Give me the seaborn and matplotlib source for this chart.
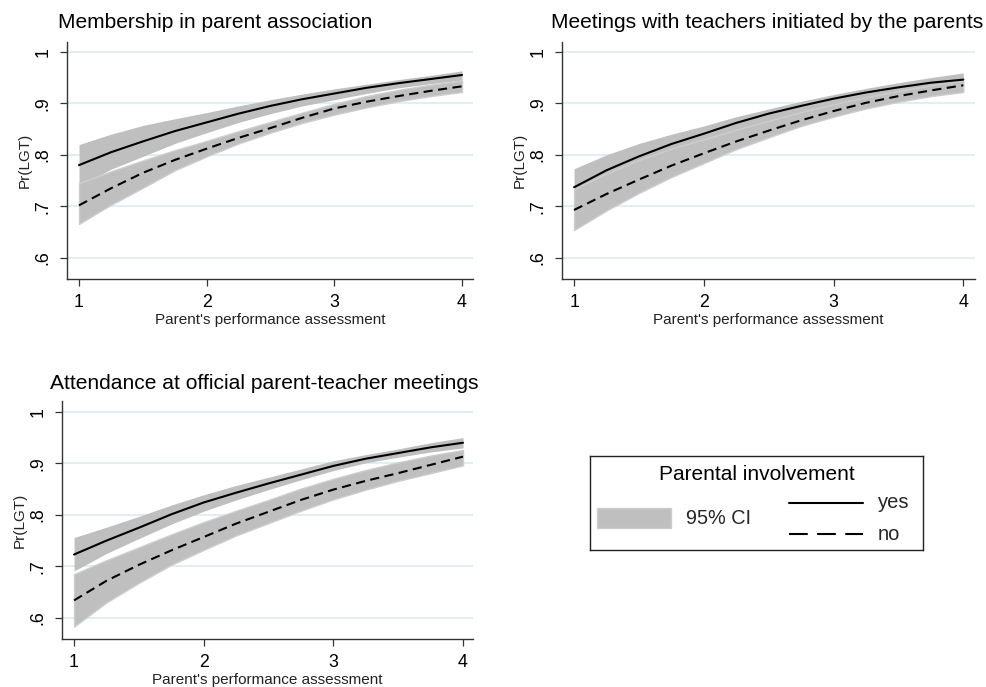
import matplotlib
matplotlib.use("Agg")
import matplotlib.pyplot as plt
from matplotlib.patches import Rectangle
from matplotlib.lines import Line2D
import pandas as pd
import seaborn as sns

# Predicted Pr(LGT) by parent's performance assessment
assessment = [1, 1.25, 1.5, 1.75, 2, 2.25, 2.5, 2.75, 3, 3.25, 3.5, 3.75, 4]

membership_yes = [0.780, 0.805, 0.826, 0.846, 0.863, 0.880, 0.895, 0.908, 0.919, 0.930, 0.939, 0.947, 0.955]
membership_yes_lo = [0.739, 0.772, 0.797, 0.822, 0.843, 0.863, 0.880, 0.895, 0.907, 0.919, 0.930, 0.938, 0.945]
membership_yes_hi = [0.820, 0.840, 0.857, 0.870, 0.882, 0.895, 0.907, 0.918, 0.928, 0.937, 0.946, 0.954, 0.963]
membership_no = [0.702, 0.735, 0.765, 0.790, 0.812, 0.833, 0.852, 0.872, 0.890, 0.903, 0.914, 0.924, 0.933]
membership_no_lo = [0.666, 0.703, 0.736, 0.770, 0.797, 0.822, 0.843, 0.862, 0.878, 0.892, 0.904, 0.914, 0.922]
membership_no_hi = [0.745, 0.768, 0.789, 0.809, 0.827, 0.846, 0.864, 0.882, 0.899, 0.914, 0.926, 0.936, 0.944]

meetings_yes = [0.737, 0.770, 0.797, 0.821, 0.841, 0.862, 0.880, 0.895, 0.909, 0.921, 0.931, 0.940, 0.946]
meetings_yes_lo = [0.700, 0.738, 0.770, 0.798, 0.822, 0.844, 0.863, 0.881, 0.897, 0.910, 0.921, 0.929, 0.935]
meetings_yes_hi = [0.773, 0.800, 0.822, 0.840, 0.856, 0.874, 0.889, 0.904, 0.917, 0.929, 0.940, 0.950, 0.959]
meetings_no = [0.693, 0.724, 0.752, 0.779, 0.803, 0.826, 0.847, 0.867, 0.885, 0.901, 0.914, 0.925, 0.935]
meetings_no_lo = [0.654, 0.692, 0.726, 0.757, 0.784, 0.811, 0.834, 0.856, 0.874, 0.890, 0.903, 0.914, 0.922]
meetings_no_hi = [0.733, 0.764, 0.790, 0.812, 0.830, 0.849, 0.866, 0.883, 0.898, 0.912, 0.924, 0.935, 0.944]

attendance_yes = [0.723, 0.750, 0.775, 0.801, 0.824, 0.843, 0.861, 0.878, 0.895, 0.909, 0.920, 0.931, 0.940]
attendance_yes_lo = [0.691, 0.725, 0.754, 0.782, 0.807, 0.829, 0.849, 0.868, 0.886, 0.901, 0.912, 0.922, 0.930]
attendance_yes_hi = [0.756, 0.776, 0.797, 0.819, 0.839, 0.857, 0.873, 0.889, 0.905, 0.917, 0.928, 0.940, 0.950]
attendance_no = [0.634, 0.672, 0.703, 0.731, 0.757, 0.783, 0.806, 0.829, 0.849, 0.866, 0.881, 0.897, 0.913]
attendance_no_lo = [0.583, 0.630, 0.668, 0.703, 0.732, 0.760, 0.784, 0.808, 0.830, 0.849, 0.866, 0.881, 0.896]
attendance_no_hi = [0.685, 0.712, 0.737, 0.762, 0.786, 0.808, 0.829, 0.851, 0.870, 0.887, 0.902, 0.915, 0.926]

panel_titles = [
    "Membership in parent association",
    "Meetings with teachers initiated by the parents",
    "Attendance at official parent-teacher meetings",
]
x_ticks = [1, 2, 3, 4]
y_ticks = [0.6, 0.7, 0.8, 0.9, 1.0]
y_tick_labels = [".6", ".7", ".8", ".9", "1"]

panels = [
    (membership_yes, membership_yes_lo, membership_yes_hi,
     membership_no, membership_no_lo, membership_no_hi),
    (meetings_yes, meetings_yes_lo, meetings_yes_hi,
     meetings_no, meetings_no_lo, meetings_no_hi),
    (attendance_yes, attendance_yes_lo, attendance_yes_hi,
     attendance_no, attendance_no_lo, attendance_no_hi),
]

sns.set_theme(style="white")
plt.rcParams["font.family"] = ["Liberation Sans", "DejaVu Sans"]

W, H = 987, 687
fig = plt.figure(figsize=(W / 100, H / 100), dpi=100)


def px_rect(left, top, right, bottom):
    return [left / W, 1 - bottom / H, (right - left) / W, (bottom - top) / H]


axes_boxes = [
    px_rect(67, 42, 473, 279),
    px_rect(562, 42, 975, 279),
    px_rect(62, 401, 473, 639),
]
x_limits = [(0.906, 4.086), (0.907, 4.09), (0.907, 4.077)]
y_limits = [(0.559, 1.019), (0.559, 1.019), (0.559, 1.021)]
title_pos = [(58, 23), (551, 23), (50, 383)]

BAND = "#bfbfbf"
BAND_EDGE = "#cdcdcd"
GRID = "#e3ecee"
LW = 1.5

for i, (yes, yes_lo, yes_hi, no, no_lo, no_hi) in enumerate(panels):
    ax = fig.add_axes(axes_boxes[i])
    ax.set_facecolor("white")

    ax.fill_between(assessment, yes_lo, yes_hi, color=BAND, lw=0, zorder=2)
    ax.fill_between(assessment, no_lo, no_hi, facecolor=BAND,
                    edgecolor=BAND_EDGE, lw=1.0, zorder=3)

    df = pd.DataFrame({
        "assessment": assessment * 2,
        "prob": yes + no,
        "involvement": ["yes"] * len(yes) + ["no"] * len(no),
    })
    sns.lineplot(data=df, x="assessment", y="prob", style="involvement",
                 dashes={"yes": "", "no": (4.4, 2.6)}, color="black",
                 lw=LW, estimator=None, sort=True, legend=False, ax=ax,
                 zorder=4)

    ax.set_xlim(*x_limits[i])
    ax.set_ylim(*y_limits[i])
    ax.set_xticks(x_ticks)
    ax.set_xticklabels([str(t) for t in x_ticks])
    ax.set_yticks(y_ticks)
    ax.set_yticklabels(y_tick_labels, rotation=90, va="center")
    for yv in y_ticks:
        ax.axhline(yv, color=GRID, lw=1.3, zorder=1)

    for side in ("top", "right"):
        ax.spines[side].set_visible(False)
    for side in ("left", "bottom"):
        ax.spines[side].set_color("#333333")
        ax.spines[side].set_linewidth(1.0)

    ax.tick_params(axis="both", which="major", direction="out", length=5,
                   width=0.9, color="#333333", labelsize=12.8,
                   labelcolor="black", left=True, bottom=True)
    ax.tick_params(axis="x", pad=6)
    ax.tick_params(axis="y", pad=6)

    ax.set_xlabel("Parent's performance assessment", fontsize=11,
                  color="#222222", labelpad=1)
    ax.set_ylabel("Pr(LGT)", fontsize=11, color="#222222", labelpad=2)

    tx, ty = title_pos[i]
    fig.text(tx / W, 1 - ty / H, panel_titles[i], fontsize=15.1,
             color="black", ha="left", va="center")

# Legend box
lg = fig.add_axes(px_rect(590, 456, 923, 550))
lg.set_xlim(590, 923)
lg.set_ylim(550, 456)
lg.set_xticks([])
lg.set_yticks([])
lg.set_facecolor("white")
for s in lg.spines.values():
    s.set_visible(True)
    s.set_color("#222222")
    s.set_linewidth(1.0)

lg.text(757, 475, "Parental involvement", fontsize=15, ha="center",
        va="center", color="black")
lg.add_patch(Rectangle((597, 508), 74, 20, facecolor=BAND,
                       edgecolor=BAND_EDGE, lw=1.0))
lg.text(686, 519, "95% CI", fontsize=14.3, ha="left", va="center")
lg.add_line(Line2D([789, 863], [503, 503], color="black", lw=LW))
lg.text(878, 503, "yes", fontsize=14.5, ha="left", va="center")
lg.add_line(Line2D([789, 863], [534, 534], color="black", lw=LW,
                   dashes=(9, 4.5)))
lg.text(878, 534, "no", fontsize=14.5, ha="left", va="center")

fig.savefig("out.png", dpi=100, facecolor="white")
